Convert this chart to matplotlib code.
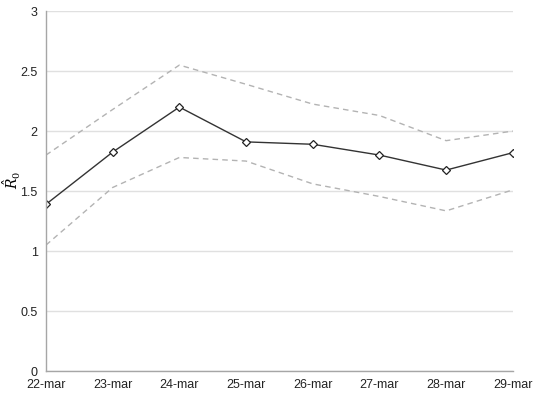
import matplotlib
matplotlib.use("Agg")
import matplotlib.pyplot as plt

dates = ["22-mar", "23-mar", "24-mar", "25-mar", "26-mar", "27-mar", "28-mar", "29-mar"]
r0 = [1.39, 1.825, 2.2, 1.91, 1.89, 1.80, 1.675, 1.82]
r0_upper = [1.80, 2.18, 2.55, 2.39, 2.225, 2.13, 1.92, 2.0]
r0_lower = [1.05, 1.53, 1.78, 1.75, 1.56, 1.455, 1.335, 1.51]

plt.rcParams['font.family'] = ['Liberation Sans', 'DejaVu Sans']
plt.rcParams['mathtext.fontset'] = 'dejavuserif'

fig = plt.figure(figsize=(5.36, 3.96), dpi=100)
ax = fig.add_axes([0.0858, 0.063, 0.871, 0.909])

x = list(range(len(dates)))
ax.plot(x, r0_upper, '--', color='#b3b3b3', linewidth=1.0, dashes=(4, 3))
ax.plot(x, r0_lower, '--', color='#b3b3b3', linewidth=1.0, dashes=(4, 3))
ax.plot(x, r0, '-', color='#333333', linewidth=1.0, marker='D', markersize=4.5,
        markerfacecolor='white', markeredgecolor='#222222', markeredgewidth=0.9)

ax.set_xlim(0, len(dates) - 1)
ax.set_ylim(0, 3)
ax.set_yticks([0, 0.5, 1, 1.5, 2, 2.5, 3])
ax.set_yticklabels(["0", "0.5", "1", "1.5", "2", "2.5", "3"])
ax.set_xticks(x)
ax.set_xticklabels(dates)
ax.tick_params(length=0, labelsize=9, colors='#222222', pad=6)
ax.grid(axis='y', color='#e0e0e0', linewidth=1.0)
ax.set_axisbelow(True)
for s in ['top', 'right']:
    ax.spines[s].set_visible(False)
for s in ['left', 'bottom']:
    ax.spines[s].set_color('#a6a6a6')
    ax.spines[s].set_linewidth(1.0)

ax.set_ylabel(r"$\hat{R}_0$", fontsize=10)
ax.yaxis.set_label_coords(-0.05, 0.53)

fig.savefig("out.png", dpi=100)
